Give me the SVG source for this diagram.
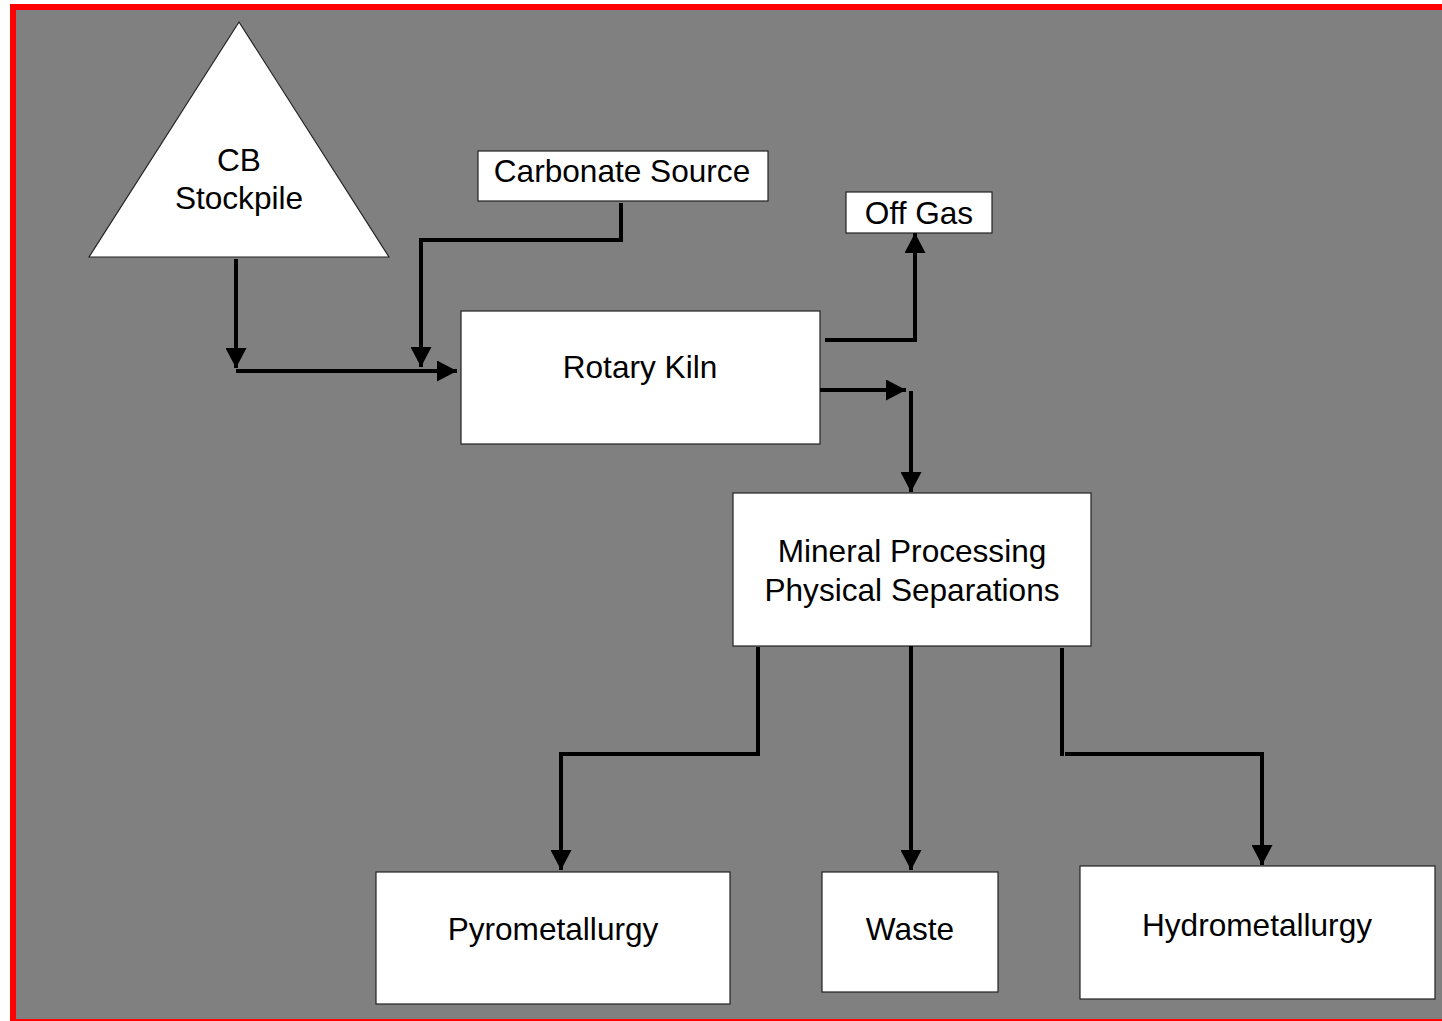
<svg xmlns="http://www.w3.org/2000/svg" width="1442" height="1021" viewBox="0 0 1442 1021">
  <style>
    .box { fill: #ffffff; stroke: #222222; stroke-width: 1.2; }
    .lbl { font-family: "Liberation Sans", Arial, sans-serif; font-size: 31.6px; fill: #000000; text-anchor: middle; }
    .conn { fill: none; stroke: #000000; stroke-width: 4; }
    .arr { marker-end: url(#ah); }
  </style>
  <defs>
    <marker id="ah" markerUnits="userSpaceOnUse" markerWidth="21" markerHeight="21" refX="20" refY="10.5" orient="auto">
      <path d="M0,0 L20,10.5 L0,21 Z" fill="#000000"/>
    </marker>
  </defs>
  <rect x="0" y="0" width="1442" height="1021" fill="#ffffff"/>
  <rect x="13" y="7" width="1440" height="1015" fill="#808080" stroke="#ff0000" stroke-width="6"/>

  <g id="cb-stockpile">
    <polygon points="239,22 389,257 89,257" class="box"/>
    <text class="lbl" x="239" y="171">CB</text>
    <text class="lbl" x="239" y="209">Stockpile</text>
  </g>
  <g id="carbonate-source">
    <rect class="box" x="478" y="151" width="290" height="50"/>
    <text class="lbl" x="622" y="182">Carbonate Source</text>
  </g>
  <g id="off-gas">
    <rect class="box" x="846" y="192" width="146" height="41"/>
    <text class="lbl" x="919" y="224">Off Gas</text>
  </g>
  <g id="rotary-kiln">
    <rect class="box" x="461" y="311" width="359" height="133"/>
    <text class="lbl" x="640" y="378">Rotary Kiln</text>
  </g>
  <g id="mineral-processing">
    <rect class="box" x="733" y="493" width="358" height="153"/>
    <text class="lbl" x="912" y="562">Mineral Processing</text>
    <text class="lbl" x="912" y="601">Physical Separations</text>
  </g>
  <g id="pyrometallurgy">
    <rect class="box" x="376" y="872" width="354" height="132"/>
    <text class="lbl" x="553" y="940">Pyrometallurgy</text>
  </g>
  <g id="waste">
    <rect class="box" x="822" y="872" width="176" height="120"/>
    <text class="lbl" x="910" y="940">Waste</text>
  </g>
  <g id="hydrometallurgy">
    <rect class="box" x="1080" y="866" width="355" height="133"/>
    <text class="lbl" x="1257" y="936">Hydrometallurgy</text>
  </g>

  <g id="connectors">
    <polyline class="conn arr" points="236,259 236,368"/>
    <polyline class="conn arr" points="236,371 457,371"/>
    <polyline class="conn arr" points="621,203 621,240 421,240 421,367"/>
    <polyline class="conn arr" points="825,340 915,340 915,233"/>
    <polyline class="conn arr" points="820,390 906,390"/>
    <polyline class="conn arr" points="911,391 911,492"/>
    <polyline class="conn arr" points="758,647 758,754 561,754 561,870"/>
    <polyline class="conn arr" points="911,646 911,870"/>
    <polyline class="conn" points="1062,648 1062,756"/>
    <polyline class="conn arr" points="1065,754 1262,754 1262,865"/>
  </g>
</svg>
